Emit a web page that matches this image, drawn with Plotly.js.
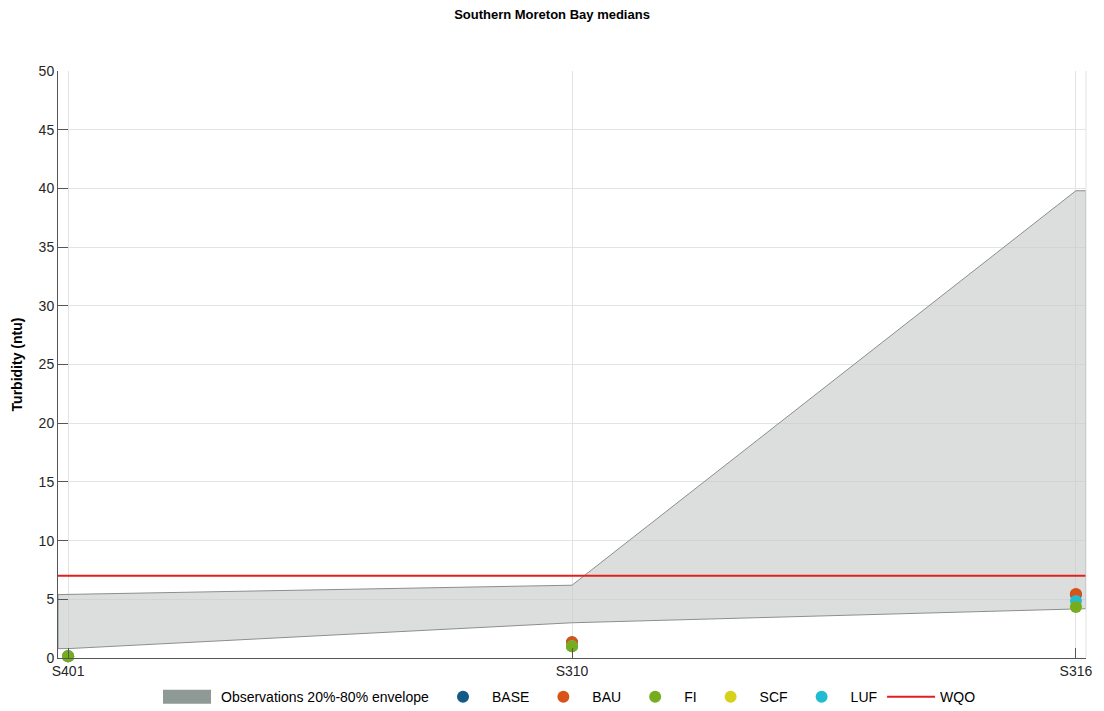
<!DOCTYPE html>
<html>
<head>
<meta charset="utf-8">
<script src="https://cdn.plot.ly/plotly-3.0.1.min.js"></script>
<style>html,body{margin:0;padding:0;background:#fff;}#chart{width:1104px;height:711px;}</style>
</head>
<body>
<div id="chart"></div>
<script>
const sites = ['S401', 'S310', 'S316'];
const envLow = [0.8, 3.0, 4.2];
const envHigh = [5.4, 6.2, 39.8];
const wqo = 7;
const baseVals = [0.15, 1.35, 5.4];
const bauVals = [0.15, 1.35, 5.45];
const fiVals = [0.15, 1.0, 4.35];
const scfVals = [0.15, 1.0, 4.4];
const lufVals = [0.15, 1.0, 4.85];
const yTicks = [0, 5, 10, 15, 20, 25, 30, 35, 40, 45, 50];

const xr = [-0.02, 2.02];
const idx = sites.map((s, i) => i);
// envelope polygon extended flat to the axis edges
const envX = [xr[0], ...idx, xr[1]];
const lowExt = [envLow[0], ...envLow, envLow[envLow.length - 1]];
const highExt = [envHigh[0], ...envHigh, envHigh[envHigh.length - 1]];
const polyX = envX.concat(envX.slice().reverse(), [envX[0]]);
const polyY = lowExt.concat(highExt.slice().reverse(), [lowExt[0]]);

const font = 'Liberation Sans, Arial, sans-serif';

function pts(name, vals, color, rank) {
  return {
    x: idx, y: vals, name: name, type: 'scatter', mode: 'markers',
    marker: {size: 12, color: color}, legendrank: rank, cliponaxis: false
  };
}

const traces = [
  {
    x: polyX, y: polyY, type: 'scatter', mode: 'lines', fill: 'toself',
    fillcolor: 'rgba(200,204,202,0.65)', line: {color: '#8a8f8d', width: 1},
    showlegend: false, hoverinfo: 'skip'
  },
  {
    x: [null], y: [null], type: 'scatter', mode: 'lines', fill: 'toself',
    fillcolor: '#8f9a97', line: {color: '#8f9a97', width: 0},
    name: 'Observations 20%-80% envelope', legendrank: 1
  },
  {
    x: xr, y: [wqo, wqo], type: 'scatter', mode: 'lines', name: 'WQO',
    line: {color: '#e0201f', width: 2}, legendrank: 8
  },
  pts('BASE', baseVals, '#125b86', 2),
  pts('BAU', bauVals, '#d95319', 3),
  pts('SCF', scfVals, '#d6d21c', 5),
  pts('LUF', lufVals, '#22bcd2', 6),
  pts('FI', fiVals, '#77ac1f', 4)
];

const layout = {
  width: 1104, height: 711,
  margin: {l: 58, r: 18, t: 71, b: 53},
  paper_bgcolor: '#fff', plot_bgcolor: '#fff',
  font: {family: font, color: '#262626', size: 14},
  title: {text: '<b>Southern Moreton Bay medians</b>', x: 0.5, xanchor: 'center', y: 0.98, yanchor: 'middle',
          font: {size: 13, color: '#000', family: font}},
  xaxis: {
    range: xr, tickvals: idx, ticktext: sites, showgrid: true, gridcolor: '#e3e3e3',
    zeroline: false, showline: true, linecolor: '#555', linewidth: 1,
    ticks: 'inside', ticklen: 10, tickcolor: '#555', tickfont: {size: 14, color: '#262626'}
  },
  yaxis: {
    range: [0, 50], tickvals: yTicks, showgrid: true, gridcolor: '#e3e3e3',
    zeroline: false, showline: true, linecolor: '#555', linewidth: 1,
    ticks: 'inside', ticklen: 10, tickcolor: '#555', tickfont: {size: 14, color: '#262626'},
    title: {text: '<b>Turbidity (ntu)</b>', font: {size: 14, color: '#000'}, standoff: 12}
  },
  legend: {
    orientation: 'h', xref: 'paper', x: 0.5, xanchor: 'center',
    yref: 'container', y: 0.042, yanchor: 'top',
    font: {size: 14, color: '#000'}, itemwidth: 48, traceorder: 'normal',
    bgcolor: 'rgba(0,0,0,0)'
  },
  shapes: [
    {type: 'line', xref: 'paper', yref: 'paper', x0: 1, x1: 1, y0: 0, y1: 1, line: {color: '#e3e3e3', width: 1}}
  ],
  showlegend: true
};

Plotly.newPlot('chart', traces, layout, {displayModeBar: false, staticPlot: true}).then(function (gd) {
  // widen the envelope legend swatch into a filled rectangle
  const items = gd.querySelectorAll('.legend .traces');
  items.forEach(function (it) {
    const txt = it.querySelector('text.legendtext');
    if (txt && txt.textContent.indexOf('Observations') === 0) {
      const fills = it.querySelectorAll('.legendfill path, .legendlines path');
      fills.forEach(function (p, i) {
        if (i === 0) {
          p.setAttribute('d', 'M-6,-7h54v14h-54Z');
          p.style.fill = '#8f9a97';
          p.style.fillOpacity = 1;
          p.style.stroke = 'none';
        } else {
          p.style.display = 'none';
        }
      });
    }
  });
});
</script>
</body>
</html>
